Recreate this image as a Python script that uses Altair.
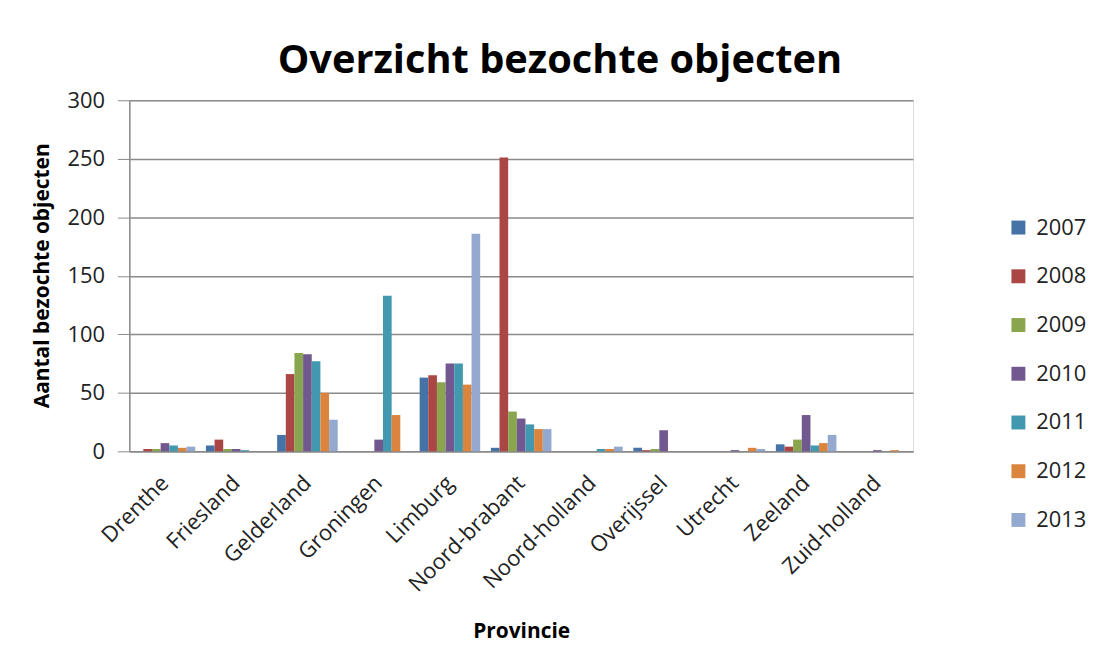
import altair as alt
import pandas as pd

provinces = ["Drenthe", "Friesland", "Gelderland", "Groningen", "Limburg",
             "Noord-brabant", "Noord-holland", "Overijssel", "Utrecht",
             "Zeeland", "Zuid-holland"]
years = ["2007", "2008", "2009", "2010", "2011", "2012", "2013"]

v2007 = [0, 5, 14, 0, 63, 3, 0, 3, 0, 6, 0]
v2008 = [2, 10, 66, 0, 65, 251, 0, 1, 0, 4, 0]
v2009 = [2, 2, 84, 0, 59, 34, 0, 2, 0, 10, 0]
v2010 = [7, 2, 83, 10, 75, 28, 0, 18, 1, 31, 1]
v2011 = [5, 1, 77, 133, 75, 23, 2, 0, 0, 5, 0]
v2012 = [3, 0, 50, 31, 57, 19, 2, 0, 3, 7, 1]
v2013 = [4, 0, 27, 0, 186, 19, 4, 0, 2, 14, 0]
series = [v2007, v2008, v2009, v2010, v2011, v2012, v2013]

colors = ["#4572A7", "#AA4643", "#89A54E", "#71588F", "#4198AF", "#DB843D", "#93A9CF"]
y_ticks = [0, 50, 100, 150, 200, 250, 300]

rows = []
for yr, vals in zip(years, series):
    for p, v in zip(provinces, vals):
        rows.append({"Provincie": p, "Jaar": yr, "Aantal": v})
df = pd.DataFrame(rows)

FONT = "Open Sans"

chart = alt.Chart(df).mark_bar().encode(
    x=alt.X("Provincie:N", sort=provinces,
            scale=alt.Scale(paddingInner=0.15, paddingOuter=0.075),
            axis=alt.Axis(title="Provincie", labelAngle=-45, labelAlign="right",
                          labelBaseline="middle", labelPadding=28, tickSize=0,
                          ticks=False, labelFontSize=22, labelFont=FONT,
                          labelColor="#222222", domainColor="#8a8a8a",
                          domainWidth=1.5, titleFont=FONT, titleFontSize=21,
                          titleFontWeight="bold", titleColor="#000000",
                          titleY=181, titleBaseline="middle", grid=False)),
    xOffset=alt.XOffset("Jaar:N", sort=years,
                        scale=alt.Scale(paddingInner=0, paddingOuter=0)),
    y=alt.Y("Aantal:Q", scale=alt.Scale(domain=[0, 300], nice=False),
            axis=alt.Axis(title="Aantal bezochte objecten", values=y_ticks,
                          labelFontSize=22, labelFont=FONT, labelColor="#222222",
                          tickSize=12, tickColor="#8a8a8a", labelPadding=13,
                          domainColor="#8a8a8a", domainWidth=1.5,
                          gridColor="#8a8a8a", gridWidth=1.5,
                          titleFont=FONT, titleFontSize=21, titleFontWeight="bold",
                          titleColor="#000000", titleX=-87, titleY=176,
                          titleBaseline="middle")),
    color=alt.Color("Jaar:N", sort=years,
                    scale=alt.Scale(domain=years, range=colors),
                    legend=alt.Legend(title=None, orient="none", legendX=883,
                                      legendY=117, symbolType="square",
                                      symbolSize=196, symbolStrokeWidth=0,
                                      labelFontSize=22, labelFont=FONT,
                                      labelColor="#222222", labelOffset=7,
                                      rowPadding=27, padding=0)),
).properties(
    width=788,
    height=353,
    title=alt.TitleParams("Overzicht bezochte objecten", font=FONT, fontSize=40,
                          fontWeight="bold", color="#000000", anchor="middle",
                          dx=39, offset=8),
    padding={"left": 122, "top": 91, "right": 179, "bottom": 198},
    autosize="none",
).configure_view(stroke=None).configure(background="white")

chart.save("out.html", embed_options={"renderer": "svg", "actions": False})
